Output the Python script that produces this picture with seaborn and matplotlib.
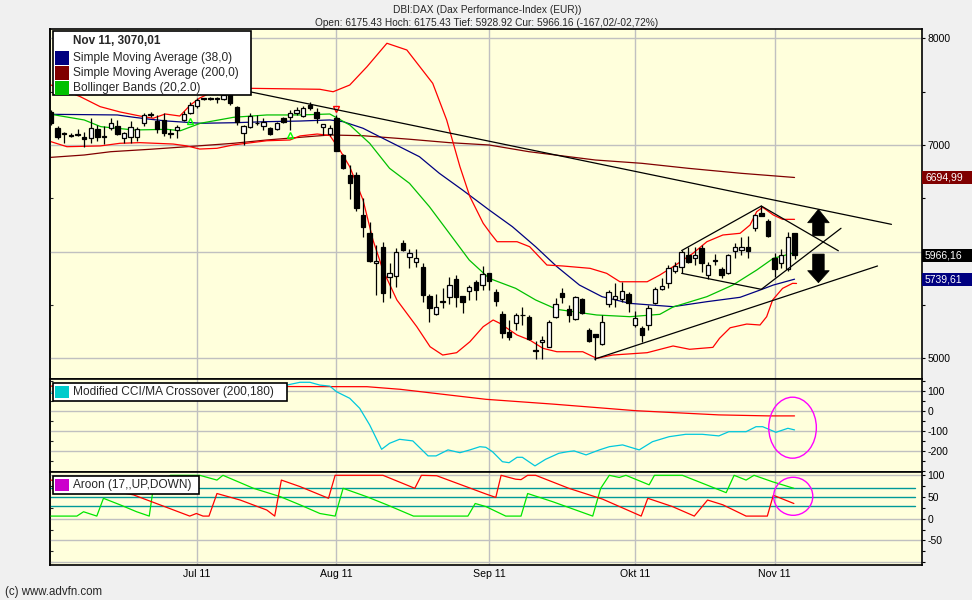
import matplotlib
matplotlib.use("Agg")
import matplotlib.pyplot as plt
import matplotlib.transforms as mtransforms
from matplotlib.patches import Rectangle, Ellipse, Polygon
import numpy as np
import pandas as pd
import seaborn as sns

W, H = 972, 600

# ---------------- data ----------------
dates = pd.bdate_range("2011-06-01", "2011-11-04")

opens = [7310, 7157, 7108, 7090, 7095, 7072, 7063, 7147, 7087, 7157,
         7178, 7063, 7078, 7072, 7204, 7290, 7228, 7235, 7105, 7140,
         7235, 7303, 7366, 7435, 7440, 7438, 7430, 7485, 7360, 7110,
         7166, 7210, 7178, 7157, 7147, 7250, 7260, 7303, 7272, 7375,
         7313, 7172, 7103, 7250, 6906, 6718, 6718, 6343, 6171, 5889,
         6045, 5764, 5773, 6077, 5951, 5904, 5857, 5582, 5413, 5525,
         5576, 5739, 5582, 5632, 5716, 5685, 5795, 5623, 5410, 5247,
         5326, 5400, 5382, 5075, 5146, 5106, 5382, 5613, 5457, 5363,
         5551, 5263, 5223, 5131, 5507, 5557, 5551, 5601, 5310, 5279,
         5310, 5514, 5645, 5701, 5820, 5852, 5967, 5936, 6030, 5779,
         5910, 5836, 5801, 6008, 6014, 6039, 6218, 6364, 6289, 5942,
         5895, 5833, 6175]
highs = [7330, 7175, 7120, 7110, 7150, 7125, 7250, 7190, 7180, 7250,
         7230, 7125, 7225, 7166, 7300, 7310, 7285, 7300, 7150, 7190,
         7320, 7400, 7440, 7445, 7450, 7448, 7490, 7500, 7370, 7190,
         7300, 7280, 7250, 7170, 7220, 7265, 7330, 7355, 7365, 7400,
         7345, 7200, 7190, 7282, 6920, 6812, 6750, 6500, 6280, 6060,
         6085, 5890, 6030, 6108, 6020, 6020, 5890, 5600, 5600, 5660,
         5760, 5780, 5582, 5690, 5730, 5860, 5800, 5645, 5440, 5360,
         5425, 5476, 5404, 5160, 5210, 5357, 5560, 5654, 5498, 5580,
         5560, 5279, 5230, 5404, 5638, 5701, 5717, 5623, 5440, 5300,
         5498, 5670, 5748, 5873, 5904, 6014, 6039, 6045, 6061, 5904,
         5976, 5857, 5976, 6077, 6139, 6145, 6352, 6427, 6302, 5983,
         6021, 6186, 6175]
lows = [7190, 7060, 7020, 7075, 7080, 6985, 7020, 7040, 7010, 7140,
        7090, 7020, 7020, 7040, 7180, 7260, 7115, 7085, 7070, 7070,
        7225, 7290, 7350, 7420, 7425, 7390, 7420, 7380, 7188, 7000,
        7160, 7185, 7140, 7095, 7140, 7210, 7140, 7280, 7260, 7330,
        7210, 7090, 7080, 6940, 6770, 6493, 6380, 6140, 5904, 5594,
        5530, 5560, 5670, 6005, 5842, 5857, 5529, 5340, 5400, 5470,
        5510, 5480, 5420, 5545, 5545, 5640, 5640, 5488, 5190, 5170,
        5263, 5310, 5169, 4990, 4990, 5100, 5373, 5519, 5341, 5355,
        5410, 5153, 4985, 5122, 5482, 5482, 5529, 5435, 5290, 5150,
        5263, 5507, 5638, 5654, 5795, 5795, 5889, 5873, 5810, 5739,
        5873, 5748, 5789, 5936, 5967, 5936, 6195, 6330, 6139, 5764,
        5842, 5820, 5929]
closes = [7207, 7072, 7100, 7085, 7100, 7053, 7157, 7072, 7072, 7204,
          7103, 7110, 7166, 7147, 7282, 7285, 7147, 7115, 7110, 7172,
          7290, 7375, 7423, 7438, 7436, 7433, 7470, 7392, 7219, 7178,
          7272, 7205, 7219, 7103, 7204, 7219, 7297, 7329, 7345, 7345,
          7250, 7194, 7157, 6946, 6781, 6640, 6406, 6233, 5913, 5913,
          5607, 5795, 5992, 6014, 5989, 5942, 5592, 5467, 5476, 5530,
          5685, 5576, 5529, 5663, 5638, 5789, 5726, 5535, 5238, 5194,
          5404, 5407, 5178, 5065, 5169, 5341, 5507, 5570, 5404, 5576,
          5426, 5163, 5194, 5341, 5623, 5582, 5632, 5519, 5373, 5216,
          5467, 5645, 5676, 5842, 5864, 5998, 5904, 5967, 5895, 5873,
          5918, 5779, 5967, 6045, 6045, 6008, 6343, 6333, 6145, 5833,
          5967, 6133, 5966]

# indicator traces as (day index, value) vertices
sma200 = [(0, 6884), (5, 6906), (9, 6937), (15, 6960), (20.5, 6984), (27.5, 7016),
          (32.5, 7047), (37.5, 7072), (42, 7094), (47, 7087), (54, 7054), (60, 7022),
          (66, 7000), (72, 6937), (82, 6859), (89, 6828), (96, 6781), (104, 6734),
          (112, 6695)]
sma38 = [(0, 7288), (10, 7282), (12.5, 7260), (15, 7241), (17.5, 7225), (22.5, 7204),
         (27.5, 7209), (32.5, 7219), (37.5, 7225), (42, 7235), (44, 7219), (47, 7157),
         (49.5, 7078), (52, 7000), (55.5, 6890), (58.5, 6734), (62, 6577), (66, 6390),
         (69.5, 6233), (73, 6045), (76.2, 5858), (79.6, 5685), (83, 5576), (87.2, 5513),
         (93.7, 5482), (98.8, 5529), (103.8, 5570), (106.8, 5638), (108.8, 5685),
         (112, 5740)]
bb_mid = [(0, 7288), (5, 7235), (7.5, 7172), (12.5, 7141), (17.5, 7147), (19.5, 7134),
          (22.5, 7204), (27.5, 7260), (32.5, 7282), (37.5, 7282), (42, 7291), (45, 7188),
          (48, 7016), (51, 6781), (54, 6640), (57, 6421), (60, 6171), (63, 5920),
          (66, 5748), (70, 5654), (73, 5545), (76.2, 5457), (82.2, 5404), (87.2, 5388),
          (91.7, 5410), (93.7, 5479), (98.8, 5576), (102.7, 5685), (106.3, 5826),
          (108.8, 5936), (112, 5989)]
bb_upper = [(0, 7563), (4.4, 7454), (7.4, 7360), (10.4, 7310), (13.4, 7272), (15.4, 7251),
            (17.2, 7291), (19.4, 7272), (21, 7376), (22.4, 7441), (24, 7488), (27, 7520),
            (30, 7532), (40.5, 7523), (42.5, 7500), (45, 7563), (47.6, 7735), (50.6, 7955),
            (53.6, 7892), (57.5, 7579), (59.6, 7235), (61.6, 6796), (63.1, 6515),
            (65.1, 6265), (66.2, 6171), (67.2, 6092), (70.2, 6092), (72.1, 6045),
            (74.7, 5873), (77.1, 5864), (81.2, 5842), (83.7, 5795), (85.7, 5716),
            (89.8, 5716), (91.7, 5779), (93.7, 5857), (96.7, 5983), (98.8, 6092),
            (101.2, 6155), (103.8, 6171), (105.3, 6249), (106.3, 6374), (107.2, 6415),
            (108.8, 6343), (110.2, 6302), (112, 6302)]
bb_lower = [(0, 7031), (2.4, 6984), (7.4, 6991), (10.4, 7016), (13.4, 7022), (18.4, 7009),
            (20.5, 6991), (22.4, 6962), (25, 6969), (27.4, 7000), (32.5, 7040), (36, 7047),
            (37.5, 7085), (40.1, 7103), (42, 7090), (43.5, 6953), (45, 6796), (47, 6484),
            (48.5, 6108), (50, 5826), (52.1, 5545), (55.1, 5294), (57.1, 5106), (59, 5028),
            (61.1, 5050), (63.1, 5153), (65.1, 5294), (66.6, 5357), (67.6, 5326),
            (70.2, 5216), (72.1, 5169), (74.1, 5091), (76.2, 5059), (80.1, 5059),
            (82.2, 4997), (84.6, 5028), (89.8, 5050), (93.7, 5113), (96.2, 5082),
            (99.7, 5100), (100.7, 5185), (102.3, 5284), (104.8, 5319), (106.8, 5310),
            (107.8, 5388), (108.7, 5545), (110.2, 5654), (111.7, 5701), (112.3, 5700)]

cci_ma = [(0, 126), (47.6, 123), (52.6, 110), (65.5, 60), (75.6, 36), (88.1, 3),
          (100.6, -18), (108.1, -23), (112, -23)]
cci = [(0, 90), (12, 115), (25, 135), (35.5, 131), (37.5, 145), (39, 145), (40.5, 131),
       (42, 126), (43, 98), (45, 65), (46.5, 15), (48, -68), (49.8, -190), (51, -160),
       (52.5, -140), (54.5, -148), (56.8, -223), (58, -223), (59.8, -193), (61.6, -207),
       (63.1, -193), (64.6, -177), (65.5, -180), (66.5, -202), (68, -252), (69, -257),
       (70.2, -230), (71, -230), (72.9, -273), (74.5, -240), (76.5, -210), (77.8, -202),
       (78.8, -198), (80.6, -218), (82.6, -193), (84.1, -177), (86.1, -168), (88.6, -193),
       (90.6, -152), (93.1, -127), (95.6, -115), (98.1, -115), (100.6, -123),
       (102.1, -102), (104.7, -102), (106.2, -77), (107.2, -77), (109.2, -105),
       (111, -85), (112, -93)]

aroon_up = [(0, 6), (3.9, 6), (4.9, 16), (6.9, 6), (7.9, 47), (10.4, 32), (12.9, 16),
            (14.8, 6), (15.4, 70), (18, 100), (22.4, 100), (25, 89), (25.9, 100),
            (30.5, 70), (34.5, 51), (37.5, 32), (40.5, 12), (42.8, 6), (44, 70),
            (47.5, 51), (50.6, 32), (54.6, 6), (62.8, 6), (63.9, 35), (65.5, 28),
            (68.5, 6), (70.8, 6), (71.8, 58), (75.6, 39), (81.6, 6), (82.8, 70),
            (84.1, 100), (85.6, 95), (86.6, 100), (90.1, 78), (90.9, 100), (95.1, 100),
            (101.7, 60), (102.9, 100), (104.7, 89), (105.9, 100), (108.7, 85), (111.9, 70)]
aroon_down = [(0, 89), (12.4, 55), (16.4, 32), (20.9, 6), (21.9, 12), (22.9, 6), (23.8, 6),
              (25, 58), (28.5, 43), (32.5, 20), (33.7, 6), (34.7, 89), (37.5, 74),
              (41.8, 47), (42.8, 100), (50, 100), (54.8, 70), (55.8, 100), (58.1, 99),
              (65.5, 57), (67, 49), (67.8, 100), (70, 91), (70.8, 90), (71.8, 100),
              (73, 100), (78, 70), (83.1, 45), (88.9, 6), (89.9, 47), (93.6, 28),
              (96.9, 6), (98.9, 43), (101.2, 32), (104.7, 6), (107.9, 6), (108.8, 54),
              (111.9, 35)]
aroon_levels = [70, 50, 30]

signal_up = [(21, 7225), (36, 7094)]
signal_down = [(43, 7340)]

price_tags = [("6694,99", 6695, "#800000"), ("5966,16", 5966, "#000000"),
              ("5739,61", 5740, "#000080")]

month_labels = ["Jul 11", "Aug 11", "Sep 11", "Okt 11", "Nov 11"]

# ---------------- style ----------------
sns.set_theme(style="white")
plt.rcParams["font.family"] = ["Liberation Sans", "DejaVu Sans"]
plt.rcParams["axes.unicode_minus"] = False

BG = "#f0f0f0"
PANEL = "#ffffdc"
GRID = "#c0c0c0"

fig = plt.figure(figsize=(W / 100, H / 100), dpi=100, facecolor=BG)


def box(x0, y0, x1, y1):
    return [x0 / W, 1 - y1 / H, (x1 - x0) / W, (y1 - y0) / H]


ax = fig.add_axes(box(50, 29, 922, 379))
ax_cci = fig.add_axes(box(50, 379, 922, 472))
ax_ar = fig.add_axes(box(50, 472, 922, 565))

idx = np.arange(len(dates))
month_idx = [int(np.argmax(dates.month == m)) for m in (7, 8, 9, 10, 11)]


def trace(a, pts, color, lw=0.9, z=2):
    xs, ys = zip(*pts)
    sns.lineplot(x=list(xs), y=list(ys), ax=a, color=color, linewidth=lw,
                 estimator=None, sort=False, legend=False, zorder=z)


# ---- price panel ----
trace(ax, sma200, "#800000")
trace(ax, sma38, "#000080")
trace(ax, bb_upper, "#ff0000")
trace(ax, bb_lower, "#ff0000")
trace(ax, bb_mid, "#00c000")

o = np.array(opens); h = np.array(highs); l = np.array(lows); c = np.array(closes)
ax.vlines(idx, l, h, color="black", lw=0.9, zorder=3)
body_lo = np.minimum(o, c)
body_h = np.maximum(np.abs(c - o), 6)
ax.bar(idx, body_h, bottom=body_lo, width=0.66,
       color=np.where(c >= o, "white", "black"), edgecolor="black",
       linewidth=0.9, zorder=4)

sx, sy = zip(*signal_up)
ax.plot(sx, sy, ls="none", marker="^", ms=4.5, mfc="none", mec="#00ff00", mew=1, zorder=5)
sx, sy = zip(*signal_down)
ax.plot(sx, sy, ls="none", marker="v", ms=4.5, mfc="none", mec="#ff0000", mew=1, zorder=5)

# hand drawn trend lines and arrows
for (x0, y0), (x1, y1) in [((20, 7628), (126.6, 6255)), ((95, 6009), (107, 6427)),
                           ((107, 6427), (118.6, 6007)), ((95, 5795), (107, 5645)),
                           ((107, 5645), (119, 6218)), ((81.9, 4990), (124.5, 5864))]:
    ax.plot([x0, x1], [y0, y1], color="black", lw=0.9, zorder=6)

cx = 115.6
ax.add_patch(Polygon([(cx - 0.87, 6148), (cx + 0.87, 6148), (cx + 0.87, 6270), (cx + 1.63, 6270),
                      (cx, 6396), (cx - 1.63, 6270), (cx - 0.87, 6270)],
                     closed=True, fc="black", ec="black", lw=0.5, zorder=7))
ax.add_patch(Polygon([(cx - 0.87, 5976), (cx + 0.87, 5976), (cx + 0.87, 5820), (cx + 1.63, 5820),
                      (cx, 5707), (cx - 1.63, 5820), (cx - 0.87, 5820)],
                     closed=True, fc="black", ec="black", lw=0.5, zorder=7))

ax.set_ylim(4803, 8089)
for v in (5000, 6000, 7000, 8000):
    ax.axhline(v, color=GRID, lw=1, zorder=1)
# the 6000 label sits under the price tag in the original, so only its tick is kept
ax.set_yticks([5000, 6000, 7000, 8000], ["5000", "", "7000", "8000"])
ax.set_yticks(np.arange(5000, 8001, 500), minor=True)

# ---- CCI panel ----
trace(ax_cci, cci_ma, "#ff0000")
trace(ax_cci, cci, "#00c8dc")
ax_cci.add_patch(Ellipse((111.7, -82), 7.17, 305, fill=False, ec="#ff00ff", lw=1, zorder=6))
ax_cci.set_ylim(-303.5, 161.5)
for v in (100, 0, -100, -200):
    ax_cci.axhline(v, color=GRID, lw=1, zorder=1)
ax_cci.set_yticks([-200, -100, 0, 100])
ax_cci.set_yticks(np.arange(-300, 151, 50), minor=True)

# ---- Aroon panel ----
for v in (100, 0, -50, -100):
    ax_ar.axhline(v, color=GRID, lw=1, zorder=1)
for v in aroon_levels:
    ax_ar.axhline(v, xmax=0.992, color="#009999", lw=1, zorder=2)
trace(ax_ar, aroon_up, "#00e600", z=3)
trace(ax_ar, aroon_down, "#ff0000", z=3)
ax_ar.add_patch(Ellipse((111.8, 51.6), 5.9, 87.6, fill=False, ec="#ff00ff", lw=1, zorder=6))
ax_ar.set_ylim(-106.7, 107.6)
ax_ar.set_yticks([-50, 0, 50, 100])
ax_ar.set_yticks(np.arange(-100, 101, 25), minor=True)

# ---- common axis styling ----
for a in (ax, ax_cci, ax_ar):
    a.set_facecolor(PANEL)
    a.set_xlim(-0.15, 131.2)
    a.set_xlabel("")
    a.set_ylabel("")
    for s in a.spines.values():
        s.set_color("black")
        s.set_linewidth(1.2)
    for m in month_idx:
        a.axvline(m, color=GRID, lw=1, zorder=1)
    a.yaxis.tick_right()
    a.tick_params(axis="y", which="both", direction="out", colors="black",
                  labelsize=7.5, pad=1.5, width=0.8)
    a.tick_params(axis="y", which="major", length=2.5)
    a.tick_params(axis="y", which="minor", length=2.5, labelright=False)
    a.set_xticks(month_idx)
    a.tick_params(axis="x", length=0, labelbottom=False)
    sec = a.secondary_yaxis("left")
    sec.set_yticks(a.get_yticks(minor=True))
    sec.tick_params(direction="in", length=2.5, width=0.8, labelleft=False)
    sec.spines["left"].set_linewidth(1.2)

ax_ar.set_xticks(month_idx, month_labels)
ax_ar.tick_params(axis="x", length=0, labelbottom=True, labelsize=7.6, pad=3, colors="black")

# ---- legends, price tags, texts ----
def fig_rect(x0, y0, x1, y1, **kw):
    fig.add_artist(Rectangle((x0 / W, 1 - y1 / H), (x1 - x0) / W, (y1 - y0) / H,
                             transform=fig.transFigure, **kw))


def fig_txt(x, y, s, **kw):
    fig.text(x / W, 1 - y / H, s, **kw)


fig_rect(53, 31, 251, 95, fc="white", ec="black", lw=1.2)
fig_txt(73, 41.5, "Nov 11, 3070,01", fontsize=8.5, fontweight="bold", va="center")
for k, (name, col) in enumerate([("Simple Moving Average (38,0)", "#000080"),
                                 ("Simple Moving Average (200,0)", "#800000"),
                                 ("Bollinger Bands (20,2.0)", "#00c000")]):
    y0 = 51 + k * 15
    fig_rect(55, y0, 69, y0 + 14, fc=col, ec="none")
    fig_txt(73, y0 + 7.3, name, fontsize=8.6, va="center")

fig_rect(53, 382.5, 287, 400.5, fc="white", ec="black", lw=1.2)
fig_rect(55, 385.5, 69, 398, fc="#00cccc", ec="none")
fig_txt(73, 391.7, "Modified CCI/MA Crossover (200,180)", fontsize=8.6, va="center")

fig_rect(53, 476, 198.5, 493.5, fc="white", ec="black", lw=1.2)
fig_rect(55, 478.5, 69, 491, fc="#cc00cc", ec="none")
fig_txt(73, 485, "Aroon (17,,UP,DOWN)", fontsize=8.6, va="center")

bt = mtransforms.blended_transform_factory(fig.transFigure, ax.transData)
for label, val, col in price_tags:
    fig.add_artist(Rectangle((922 / W, val - 62), 50 / W, 124, transform=bt,
                             fc=col, ec="none"))
    fig.text(925 / W, val, label, transform=bt, color="white", fontsize=7.5, va="center")

fig_txt(487, 10, "DBI:DAX (Dax Performance-Index (EUR))", fontsize=7.3, ha="center", va="center")
fig_txt(487, 23, "Open: 6175.43 Hoch: 6175.43 Tief: 5928.92 Cur: 5966.16 (-167,02/-02,72%)",
        fontsize=7.3, ha="center", va="center")
fig_txt(5, 592, "(c) www.advfn.com", fontsize=8.3, va="center")

fig.savefig("out.png", dpi=100, facecolor=BG)
